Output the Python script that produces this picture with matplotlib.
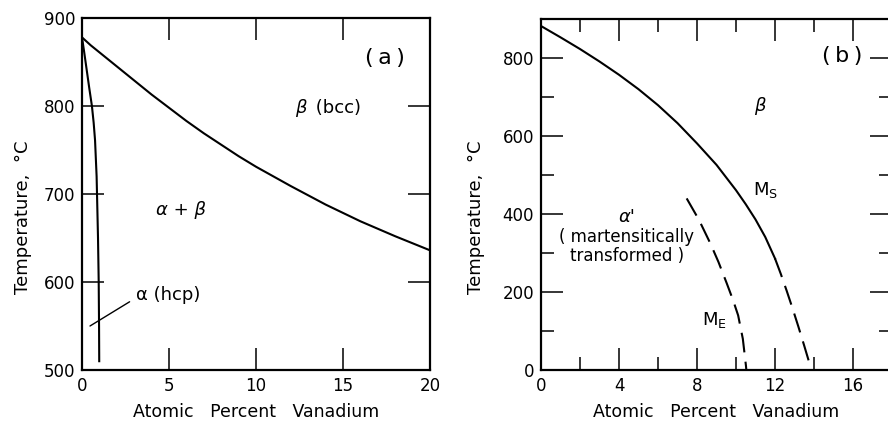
import matplotlib
matplotlib.use('Agg')
import matplotlib.pyplot as plt
from matplotlib.ticker import MultipleLocator

plt.rcParams['font.family'] = 'DejaVu Sans'

# (a) Ti-V phase boundaries
beta_transus_v = [0, 0.5, 1, 2, 3, 4, 5, 6, 7, 8, 9, 10, 12, 14, 16, 18, 20]
beta_transus_T = [878, 869, 861, 845, 829, 813, 798, 783, 769, 756, 743, 731,
                  709, 688, 669, 652, 636]
alpha_transus_v = [0, 0.12, 0.27, 0.42, 0.57, 0.67, 0.75, 0.84, 0.92, 0.96, 0.98, 0.99]
alpha_transus_T = [878, 862, 841, 820, 800, 781, 761, 720, 650, 600, 550, 510]

# (b) martensite start / end
ms_solid_v = [0, 1, 2, 3, 4, 5, 6, 7, 8, 9, 10, 10.5, 11, 11.5, 12.0]
ms_solid_T = [882, 853, 823, 791, 757, 720, 679, 633, 581, 526, 461, 425, 386, 341, 286]
ms_dash_v = [12.0, 12.3, 12.6, 12.9, 13.2, 13.5, 13.87]
ms_dash_T = [286, 246, 203, 158, 111, 62, 0]
me_v = [7.47, 8.1, 8.69, 9.1, 9.52, 9.85, 10.11, 10.35, 10.51, 10.53]
me_T = [440, 385, 324, 277, 223, 179, 140, 80, 11, 0]

xticks_a = [0, 5, 10, 15, 20]
yticks_a = [500, 600, 700, 800, 900]
xticks_b = [0, 4, 8, 12, 16]
yticks_b = [0, 200, 400, 600, 800]

W, H = 888, 423
fig = plt.figure(figsize=(8.88, 4.23), dpi=100)
ax1 = fig.add_axes([82 / W, 53 / H, 348 / W, 352 / H])
ax2 = fig.add_axes([541 / W, 53 / H, 351 / W, 351 / H])

lw = 1.5
dash = (0, (9.5, 4.5))


def style(ax, ylab_x):
    for s in ax.spines.values():
        s.set_linewidth(1.6)
    ax.tick_params(which='both', direction='in', top=True, right=True,
                   width=1.1, labelsize=12, pad=5)
    ax.tick_params(which='major', length=16)
    ax.tick_params(which='minor', length=9.5)
    ax.set_xlabel('Atomic   Percent   Vanadium', fontsize=12.5, labelpad=6)
    ax.set_ylabel('Temperature,  °C', fontsize=13)
    ax.yaxis.set_label_coords(ylab_x, 0.435)


# ---- panel (a)
ax1.plot(beta_transus_v, beta_transus_T, color='black', lw=lw)
ax1.plot(alpha_transus_v, alpha_transus_T, color='black', lw=lw)
ax1.set_xlim(0, 20)
ax1.set_ylim(500, 900)
ax1.set_xticks(xticks_a)
ax1.set_yticks(yticks_a)
style(ax1, -0.144)

ax1.text(17.4, 855, '(\u2009a\u2009)', fontsize=16, ha='center', va='center')
ax1.text(12.9, 798, 'β', fontsize=13, style='italic', ha='right', va='center')
ax1.text(13.1, 798, ' (bcc)', fontsize=13, ha='left', va='center')
ax1.text(5.7, 682, 'α + β', fontsize=13, style='italic', ha='center', va='center')
ax1.annotate('α (hcp)', xy=(0.46, 550), xytext=(3.1, 585), fontsize=13,
             ha='left', va='center',
             arrowprops=dict(arrowstyle='-', lw=1.0, color='black',
                             relpos=(0, 0.35), shrinkA=3, shrinkB=0))

# ---- panel (b)
ax2.plot(ms_solid_v, ms_solid_T, color='black', lw=lw)
ax2.plot(ms_dash_v, ms_dash_T, color='black', lw=lw, linestyle=dash)
ax2.plot(me_v, me_T, color='black', lw=lw, linestyle=dash)
ax2.set_xlim(0, 18)
ax2.set_ylim(0, 900)
ax2.set_xticks(xticks_b)
ax2.set_yticks(yticks_b)
ax2.xaxis.set_minor_locator(MultipleLocator(2))
ax2.yaxis.set_minor_locator(MultipleLocator(100))
style(ax2, -0.16)

ax2.text(15.45, 804, '(\u2009b\u2009)', fontsize=16, ha='center', va='center')
ax2.text(11.2, 676, 'β', fontsize=13, style='italic', ha='center', va='center')
ax2.text(11.5, 462, r'M$_\mathregular{S}$', fontsize=13, ha='center', va='center')
ax2.text(8.9, 128, r'M$_\mathregular{E}$', fontsize=13, ha='center', va='center')
ax2.text(4.4, 393, "α'", fontsize=13, style='italic', ha='center', va='center')
ax2.text(4.4, 317, '( martensitically\ntransformed )', fontsize=12,
         ha='center', va='center', linespacing=1.1)

fig.savefig('out.png', dpi=100)
